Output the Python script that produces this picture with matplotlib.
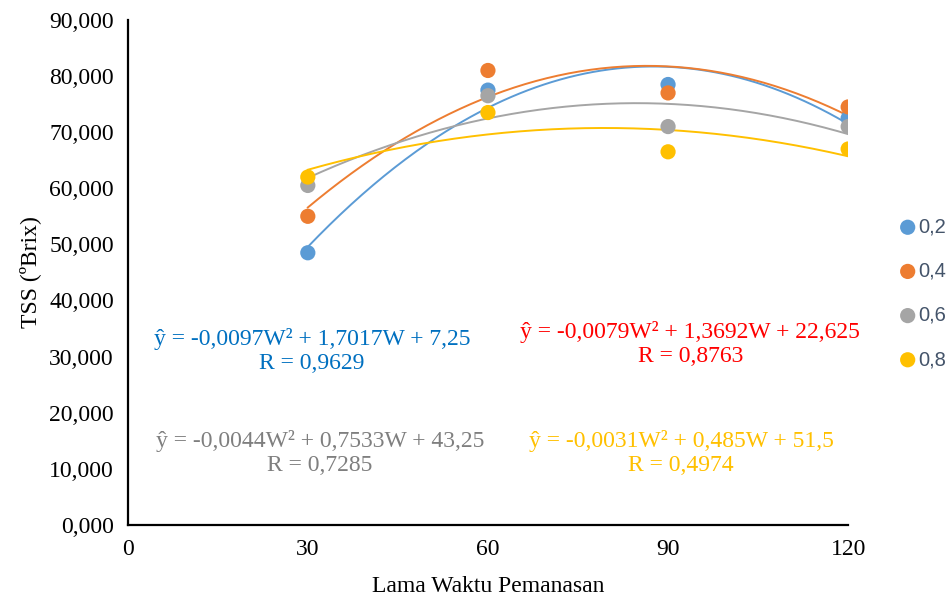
import numpy as np
import matplotlib.pyplot as plt
from matplotlib.ticker import FuncFormatter

# lama pemanasan (menit)
waktu = [30, 60, 90, 120]

# TSS per konsentrasi
tss_02 = [48.5, 77.5, 78.5, 72.5]
tss_04 = [55.0, 81.0, 77.0, 74.5]
tss_06 = [60.5, 76.5, 71.0, 71.0]
tss_08 = [62.0, 73.5, 66.5, 67.0]

labels = ['0,2', '0,4', '0,6', '0,8']
colors = ['#5B9BD5', '#ED7D31', '#A5A5A5', '#FFC000']

eq_texts = [
    'ŷ = -0,0097W² + 1,7017W + 7,25\nR = 0,9629',
    'ŷ = -0,0079W² + 1,3692W + 22,625\nR = 0,8763',
    'ŷ = -0,0044W² + 0,7533W + 43,25\nR = 0,7285',
    'ŷ = -0,0031W² + 0,485W + 51,5\nR = 0,4974',
]
eq_colors = ['#0070C0', '#FF0000', '#7F7F7F', '#FFC000']
eq_pos = [(30.7, 31.0), (93.7, 32.3), (32.0, 12.8), (92.2, 12.8)]

plt.rcParams['font.family'] = ['Liberation Serif', 'DejaVu Serif']

fig = plt.figure(figsize=(9.53, 6.06), dpi=100)
ax = fig.add_axes([0.134, 0.134, 0.756, 0.833])

all_data = [tss_02, tss_04, tss_06, tss_08]
xs = np.linspace(30, 120, 200)
for y, c in zip(all_data, colors):
    coef = np.polyfit(waktu, y, 2)
    ax.plot(xs, np.polyval(coef, xs), color=c, linewidth=1.4, zorder=2)
for y, c, lab in zip(all_data, colors, labels):
    ax.scatter(waktu, y, s=120, color=c, label=lab, zorder=3, edgecolors='none')

for txt, c, (px, py) in zip(eq_texts, eq_colors, eq_pos):
    ax.text(px, py, txt, color=c, fontsize=17, ha='center', va='center',
            linespacing=1.2)

ax.set_xlim(0, 120)
ax.set_ylim(0, 90)
ax.set_xticks([0, 30, 60, 90, 120])
ax.set_yticks(np.arange(0, 91, 10))
ax.yaxis.set_major_formatter(FuncFormatter(lambda v, p: '{:d},000'.format(int(v))))
ax.tick_params(length=0, labelsize=17, pad=10)
for s in ['top', 'right']:
    ax.spines[s].set_visible(False)
for s in ['left', 'bottom']:
    ax.spines[s].set_linewidth(1.6)
    ax.spines[s].set_color('black')

ax.set_xlabel('Lama Waktu Pemanasan', fontsize=17, labelpad=12)
ax.set_ylabel('TSS (ºBrix)', fontsize=17, labelpad=6)

leg = fig.legend(loc='center left', bbox_to_anchor=(0.944, 0.516), frameon=False,
                 borderpad=0, borderaxespad=0, handlelength=0.8, handletextpad=0.1,
                 labelspacing=1.25, prop={'family': 'Liberation Sans', 'size': 14.5})
for t in leg.get_texts():
    t.set_color('#44546A')

fig.savefig('out.png', dpi=100)
